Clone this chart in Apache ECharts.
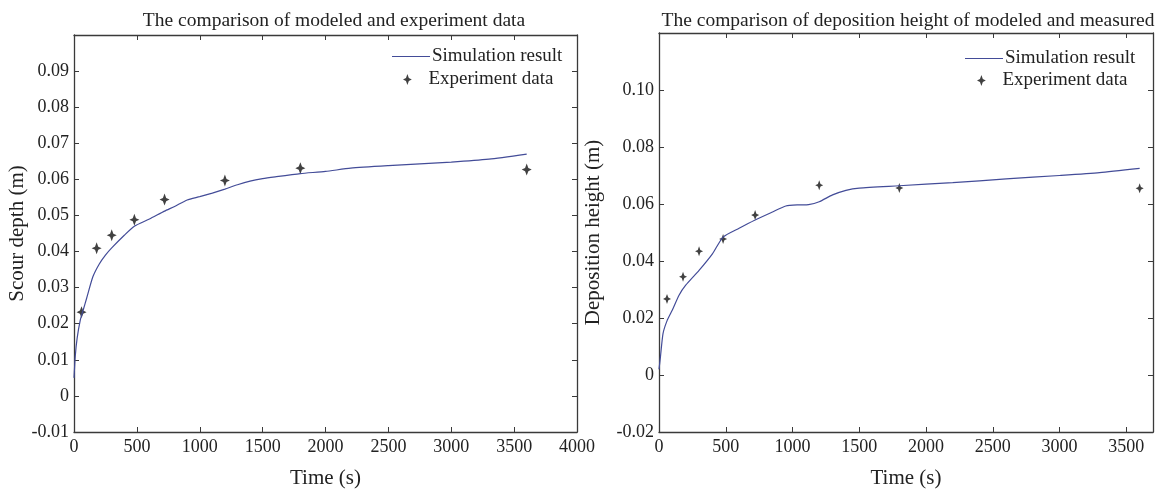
<!DOCTYPE html>
<html>
<head>
<meta charset="utf-8">
<script src="https://cdn.jsdelivr.net/npm/echarts@6/dist/echarts.min.js"></script>
<style>
  html, body { margin: 0; padding: 0; background: #fff; }
  #main { width: 1156px; height: 494px; }
</style>
</head>
<body>
<div id="main"></div>
<script>
// left panel: scour depth
const scourSimTime = [0, 10, 25, 50, 75, 100, 150, 200, 250, 300, 400, 480, 600, 720, 800, 900, 1000, 1100, 1200, 1300, 1400, 1500, 1600, 1800, 2000, 2200, 2500, 3000, 3300, 3600];
const scourSimDepth = [0.005, 0.011, 0.016, 0.021, 0.024, 0.027, 0.033, 0.0365, 0.039, 0.041, 0.0445, 0.047, 0.049, 0.0512, 0.0525, 0.0543, 0.0552, 0.0562, 0.0573, 0.0585, 0.0595, 0.0602, 0.0607, 0.0616, 0.0622, 0.0631, 0.0638, 0.0648, 0.0656, 0.067];
const scourExpTime = [60, 180, 300, 480, 720, 1200, 1800, 3600];
const scourExpDepth = [0.0232, 0.0409, 0.0445, 0.0488, 0.0544, 0.0597, 0.0631, 0.0627];

// right panel: deposition height
const depoSimTime = [0, 10, 30, 60, 100, 150, 200, 300, 400, 480, 600, 720, 850, 950, 1050, 1120, 1200, 1300, 1400, 1500, 1800, 2200, 2600, 3000, 3300, 3600];
const depoSimHeight = [0.002, 0.006, 0.0145, 0.019, 0.0228, 0.028, 0.0315, 0.0367, 0.0425, 0.0484, 0.0515, 0.0544, 0.0572, 0.0593, 0.0597, 0.0598, 0.0608, 0.0632, 0.0648, 0.0656, 0.0664, 0.0675, 0.0688, 0.07, 0.071, 0.0725];
const depoExpTime = [60, 180, 300, 480, 720, 1200, 1800, 3600];
const depoExpHeight = [0.0267, 0.0345, 0.0434, 0.0477, 0.0561, 0.0666, 0.0656, 0.0655];

const FONT = "'Liberation Serif', 'Times New Roman', serif";
const AX = '#3a3a3a';
const LINE = '#434c98';
const STAR = 'path://M0,-10 L2.6,-2.6 L8,0 L2.6,2.6 L0,10 L-2.6,2.6 L-8,0 L-2.6,-2.6 Z';

function zip(xs, ys) {
  return xs.map((x, i) => [x, ys[i]]);
}

function yFmt(v) {
  if (Math.abs(v) < 1e-9) return '0';
  return v.toFixed(2);
}

function mainX(grid, max, name) {
  return {
    type: 'value', gridIndex: grid, min: 0, max: max, interval: 500,
    name: name, nameLocation: 'middle', nameGap: 36,
    nameTextStyle: { fontFamily: FONT, fontSize: 21, color: '#222' },
    axisLine: { show: true, onZero: false, lineStyle: { color: AX, width: 1.3 } },
    axisTick: { show: true, inside: true, length: 5, lineStyle: { color: AX } },
    axisLabel: {
      fontFamily: FONT, fontSize: 18, color: '#222', margin: 6,
      showMaxLabel: max % 500 === 0,
      formatter: v => String(v)
    },
    splitLine: { show: false }
  };
}

function mirrorX(grid, max) {
  return {
    type: 'value', gridIndex: grid, position: 'top', min: 0, max: max, interval: 500,
    axisLine: { show: true, onZero: false, lineStyle: { color: AX, width: 1.3 } },
    axisTick: { show: true, inside: true, length: 5, lineStyle: { color: AX } },
    axisLabel: { show: false },
    splitLine: { show: false }
  };
}

function mainY(grid, min, max, step, name, gap) {
  return {
    type: 'value', gridIndex: grid, min: min, max: max, interval: step,
    name: name, nameLocation: 'middle', nameGap: gap,
    nameTextStyle: { fontFamily: FONT, fontSize: 21, color: '#222' },
    axisLine: { show: true, onZero: false, lineStyle: { color: AX, width: 1.3 } },
    axisTick: { show: true, inside: true, length: 5, lineStyle: { color: AX } },
    axisLabel: { fontFamily: FONT, fontSize: 18, color: '#222', margin: 5, showMaxLabel: false, formatter: yFmt },
    splitLine: { show: false }
  };
}

function mirrorY(grid, min, max, step) {
  return {
    type: 'value', gridIndex: grid, position: 'right', min: min, max: max, interval: step,
    axisLine: { show: true, onZero: false, lineStyle: { color: AX, width: 1.3 } },
    axisTick: { show: true, inside: true, length: 5, lineStyle: { color: AX } },
    axisLabel: { show: false },
    splitLine: { show: false }
  };
}

// one legend per entry so the line key can be a thin bar and the star key full size
function legendFor(left, top, name, isLine) {
  return {
    orient: 'vertical', left: left, top: top,
    itemWidth: 38, itemHeight: isLine ? 1.2 : 11,
    data: [isLine ? { name: name, icon: 'rect' } : { name: name }],
    textStyle: { fontFamily: FONT, fontSize: 19, color: '#222', padding: [0, 0, 0, -3] },
    selectedMode: false
  };
}

let chart = echarts.init(document.getElementById('main'), null, { renderer: 'canvas' });

let option = {
  backgroundColor: '#fff',
  animation: false,
  title: [
    {
      text: 'The comparison of modeled and experiment data',
      left: 329, top: 6, textAlign: 'center',
      textStyle: { fontFamily: FONT, fontSize: 19.5, fontWeight: 'normal', color: '#222' }
    },
    {
      text: 'The comparison of deposition height of modeled and measured',
      left: 903, top: 6, textAlign: 'center',
      textStyle: { fontFamily: FONT, fontSize: 19.5, fontWeight: 'normal', color: '#222' }
    }
  ],
  grid: [
    { left: 74, top: 35, width: 503, height: 397 },
    { left: 659, top: 33, width: 494, height: 402 }
  ],
  legend: [
    legendFor(387, 42, 'Simulation result', true),
    legendFor(398, 65, 'Experiment data', false),
    legendFor(960, 44, 'Simulation result ', true),
    legendFor(972, 66, 'Experiment data ', false)
  ],
  xAxis: [
    mainX(0, 4000, 'Time (s)'),
    mirrorX(0, 4000),
    mainX(1, 3700, 'Time (s)'),
    mirrorX(1, 3700)
  ],
  yAxis: [
    mainY(0, -0.01, 0.1, 0.01, 'Scour depth (m)', 46),
    mirrorY(0, -0.01, 0.1, 0.01),
    mainY(1, -0.02, 0.12, 0.02, 'Deposition height (m)', 55),
    mirrorY(1, -0.02, 0.12, 0.02)
  ],
  series: [
    {
      name: 'Simulation result', type: 'line', xAxisIndex: 0, yAxisIndex: 0,
      data: zip(scourSimTime, scourSimDepth),
      symbol: 'none', smooth: 0.2,
      lineStyle: { color: LINE, width: 1.2 },
      itemStyle: { color: LINE }
    },
    {
      name: 'Experiment data', type: 'scatter', xAxisIndex: 0, yAxisIndex: 0,
      data: zip(scourExpTime, scourExpDepth),
      symbol: STAR, symbolSize: [10, 12],
      itemStyle: { color: '#111' }
    },
    {
      name: 'Simulation result ', type: 'line', xAxisIndex: 2, yAxisIndex: 2,
      data: zip(depoSimTime, depoSimHeight),
      symbol: 'none', smooth: 0.2,
      lineStyle: { color: LINE, width: 1.2 },
      itemStyle: { color: LINE }
    },
    {
      name: 'Experiment data ', type: 'scatter', xAxisIndex: 2, yAxisIndex: 2,
      data: zip(depoExpTime, depoExpHeight),
      symbol: STAR, symbolSize: [8, 10],
      itemStyle: { color: '#111' }
    }
  ]
};

option && chart.setOption(option);
</script>
</body>
</html>
